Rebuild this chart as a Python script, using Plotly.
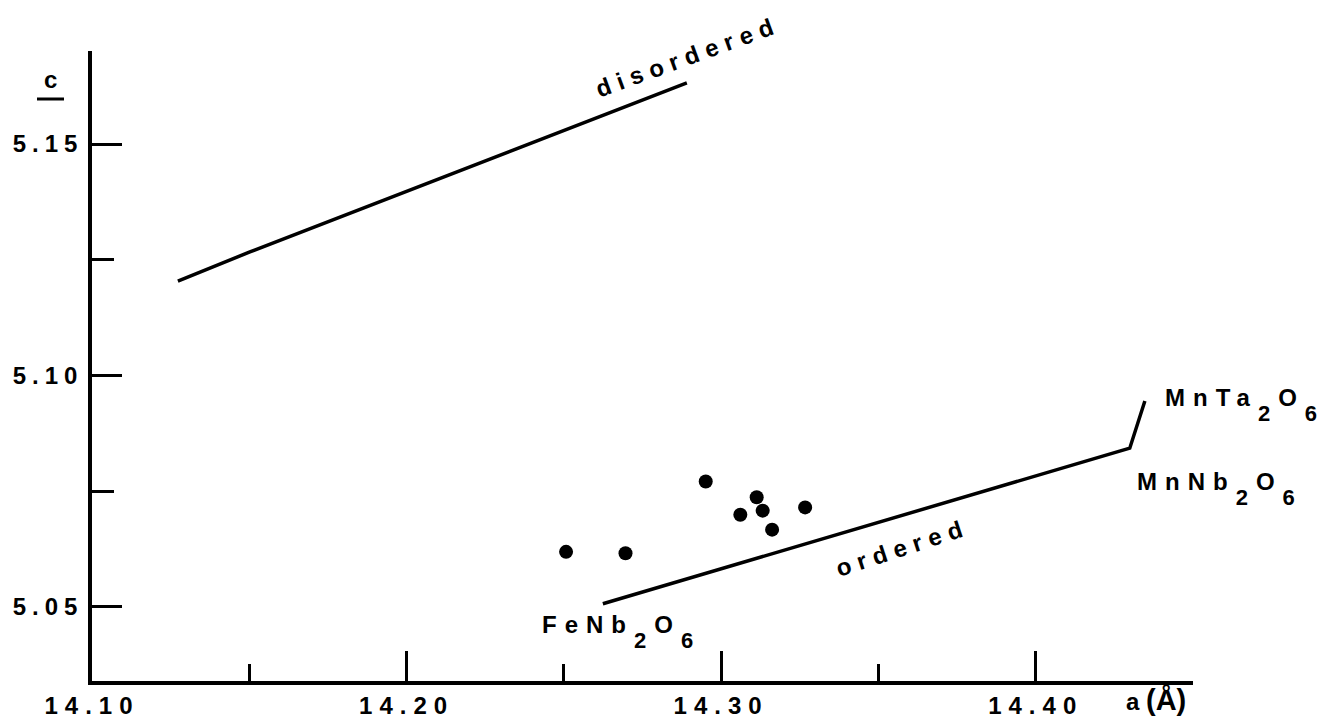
import plotly.graph_objects as go

# ---- data ----
a_points = [14.2507, 14.2696, 14.2951, 14.3113, 14.3061, 14.3132, 14.3162, 14.3267]
c_points = [5.0619, 5.0616, 5.0771, 5.0737, 5.0699, 5.0708, 5.0667, 5.0715]

disordered_a = [14.1273, 14.1502, 14.2891]
disordered_c = [5.1204, 5.1267, 5.1632]

ordered_a = [14.2624, 14.4299, 14.4347]
ordered_c = [5.0507, 5.0843, 5.0945]

x_major = [14.10, 14.20, 14.30, 14.40]
x_major_text = ["14.10", "14.20", "14.30", "14.40"]
x_minor = [14.15, 14.25, 14.35, 14.45]
y_major = [5.05, 5.10, 5.15]
y_major_text = ["5.05", "5.10", "5.15"]
y_minor = [5.075, 5.125]

# ---- layout geometry (pixels) ----
W, H = 1332, 719
L, R, T, B = 92, 139, 51, 38
PW, PH = W - L - R, H - T - B

def px(x):
    return (x - L) / PW

def py(y):
    return (H - B - y) / PH

FONT = "Liberation Sans"

def sp(t, s=6):
    return f"<span style='letter-spacing:{s}px'>{t}</span>"

def sb(t):
    return f"<span style='baseline-shift:-15px;font-size:22px'>{t}</span>"

fig = go.Figure()
fig.add_trace(go.Scatter(x=disordered_a, y=disordered_c, mode="lines",
                         line=dict(color="black", width=3.5), hoverinfo="skip"))
fig.add_trace(go.Scatter(x=ordered_a, y=ordered_c, mode="lines",
                         line=dict(color="black", width=3.5), hoverinfo="skip"))
fig.add_trace(go.Scatter(x=a_points, y=c_points, mode="markers",
                         marker=dict(color="black", size=14)))

tickfont = dict(family=FONT, size=24, color="black", weight="bold")
fig.update_layout(
    width=W, height=H,
    margin=dict(l=L, r=R, t=T, b=B, autoexpand=False),
    paper_bgcolor="white", plot_bgcolor="white",
    showlegend=False,
    font=dict(family=FONT, size=24, color="black"),
    xaxis=dict(range=[14.10, 14.45], showgrid=False, zeroline=False,
               showline=True, linecolor="black", linewidth=3.5,
               ticks="inside", ticklen=30, tickwidth=3, tickcolor="black",
               tickvals=x_major, ticktext=[sp(t, 7) for t in x_major_text],
               tickfont=tickfont,
               minor=dict(tickvals=x_minor, ticks="inside", ticklen=17,
                          tickwidth=3, tickcolor="black")),
    yaxis=dict(range=[5.034, 5.1701], showgrid=False, zeroline=False,
               showline=True, linecolor="black", linewidth=3.5,
               ticks="inside", ticklen=30, tickwidth=3, tickcolor="black",
               tickvals=y_major, ticktext=[sp(t, 6) for t in y_major_text],
               tickfont=tickfont,
               minor=dict(tickvals=y_minor, ticks="inside", ticklen=22,
                          tickwidth=3, tickcolor="black")),
)

ann = [
    dict(text="c", x=px(50), y=py(80), xanchor="center", yanchor="middle", size=24, angle=0),
    dict(text=sp("disordered", 7), x=px(688), y=py(57), xanchor="center", yanchor="middle", size=24, angle=-20),
    dict(text=sp("ordered", 7), x=px(902), y=py(547), xanchor="center", yanchor="middle", size=24, angle=-18),
    dict(text=sp("MnTa" + sb("2") + "O" + sb("6"), 8), x=px(1163), y=py(405), xanchor="left", yanchor="middle", size=24, angle=0),
    dict(text=sp("MnNb" + sb("2") + "O" + sb("6"), 8), x=px(1135), y=py(489), xanchor="left", yanchor="middle", size=24, angle=0),
    dict(text=sp("FeNb" + sb("2") + "O" + sb("6"), 8), x=px(540), y=py(632), xanchor="left", yanchor="middle", size=24, angle=0),
    dict(text="a <span style='font-size:29px'>(Å)</span>", x=px(1156), y=py(700), xanchor="center", yanchor="middle", size=24, angle=0),
]
for a in ann:
    fig.add_annotation(text=a["text"], x=a["x"], y=a["y"], xref="paper", yref="paper",
                       xanchor=a["xanchor"], yanchor=a["yanchor"], showarrow=False,
                       textangle=a["angle"],
                       font=dict(family=FONT, size=a["size"], color="black", weight="bold"))

# underline of the "c" axis label
fig.add_shape(type="line", xref="paper", yref="paper",
              x0=px(37), x1=px(64), y0=py(99), y1=py(99),
              line=dict(color="black", width=3))

fig.write_html("out.html",
               config={"displayModeBar": False},
               post_script="document.body.style.margin='0';document.body.style.overflow='hidden';")
